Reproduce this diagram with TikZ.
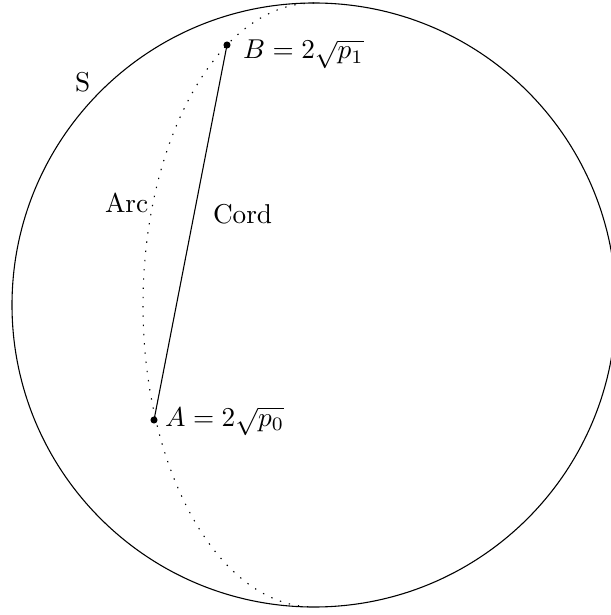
\documentclass[tikz,border=0pt]{standalone}
\begin{document}
\begin{tikzpicture}[x=0.367pt,y=-0.367pt,
  lbl/.style={anchor=base west,inner sep=0pt,outer sep=0pt},
  pt/.style={circle,fill=black,inner sep=0pt,minimum size=2.6pt},
  arcline/.style={dash pattern=on 0.5pt off 2.9pt}]
\useasboundingbox (0,0) rectangle (610,615);
\coordinate (O) at (314,305);
\draw (O) circle[radius=302];
\draw[arcline] (314,3) arc[start angle=-90,end angle=-270,x radius=171,y radius=302];
\node[pt] (A) at (154,420) {};
\node[pt] (B) at (227,45) {};
\draw (A.center) -- (B.center);
\node[lbl] (la) at (165,426) {$A = 2\sqrt{p_0}$};
\node[lbl] (lb) at (243,59) {$B = 2\sqrt{p_1}$};
\node[lbl] (ls) at (75,92) {S};
\node[lbl] (larc) at (105,213) {Arc};
\node[lbl] (lcord) at (213,224) {Cord};
\end{tikzpicture}
\end{document}
